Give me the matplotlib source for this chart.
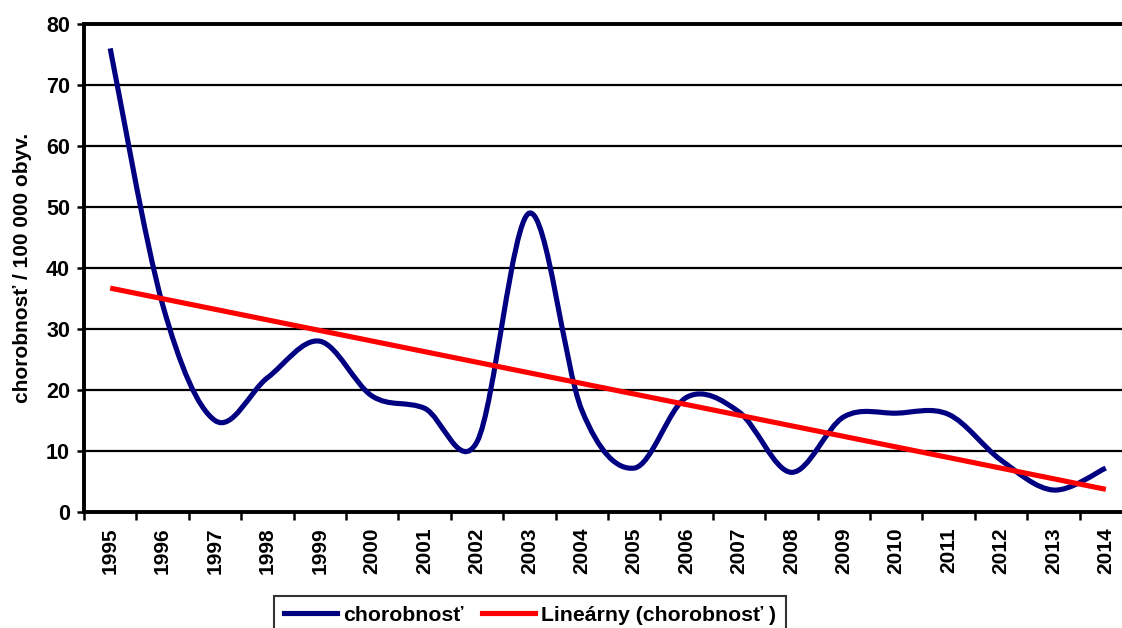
import numpy as np
import matplotlib
matplotlib.use("Agg")
import matplotlib.pyplot as plt
from matplotlib.path import Path
from matplotlib.patches import PathPatch
from matplotlib.lines import Line2D

plt.rcParams['font.family'] = ['Liberation Sans', 'DejaVu Sans']
plt.rcParams['font.weight'] = 'bold'

# data
years = [str(y) for y in range(1995, 2015)]
values = [76, 34, 15, 22, 28, 19, 17, 11.5, 49, 16.7, 7.2, 18.8, 16.4, 6.5,
          15.6, 16.2, 16, 8.5, 3.6, 7.2]
series_name = "chorobnosť"
trend_name = "Lineárny (chorobnosť )"
y_label = "chorobnosť / 100 000 obyv."


# smoothed line like Excel (Bezier through the points)
def smooth_path(xs, ys):
    pts = np.column_stack([xs, ys]).astype(float)
    n = len(pts)
    verts = [pts[0]]
    codes = [Path.MOVETO]
    for i in range(n - 1):
        p0 = pts[i - 1] if i > 0 else pts[i]
        p1 = pts[i]
        p2 = pts[i + 1]
        p3 = pts[i + 2] if i + 2 < n else pts[i + 1]
        c1 = p1 + (p2 - p0) / 6.0
        c2 = p2 - (p3 - p1) / 6.0
        verts += [c1, c2, p2]
        codes += [Path.CURVE4] * 3
    return Path(verts, codes)


x = np.arange(len(years))
coef = np.polyfit(x, values, 1)
trend = np.polyval(coef, x)

fig = plt.figure(figsize=(11.22, 6.28), dpi=100)
ax = fig.add_axes([84 / 1122, 116 / 628, 1048 / 1122, 488 / 628])

for v in range(10, 90, 10):
    ax.axhline(v, color='black', lw=1.6, zorder=1)

navy = '#000080'
patch = PathPatch(smooth_path(x, values), facecolor='none', edgecolor=navy,
                  lw=3.7, capstyle='butt', zorder=3)
ax.add_patch(patch)
ax.plot(x, trend, color='#ff0000', lw=3.7, solid_capstyle='butt', zorder=4)

ax.set_xlim(-0.5, len(years) - 0.5)
ax.set_ylim(0, 80)
ax.set_yticks(range(0, 90, 10))
ax.set_yticklabels([str(v) for v in range(0, 90, 10)], fontsize=15.5, fontweight='bold')
ax.set_xticks(x)
ax.set_xticklabels(years, rotation=90, fontsize=15, fontweight='bold')
ax.set_xticks(np.arange(-0.5, len(years), 1), minor=True)
ax.tick_params(axis='x', which='major', length=0, pad=11)
ax.tick_params(axis='x', which='minor', length=6, width=1.8, direction='out')
ax.tick_params(axis='y', length=5, width=1.8, direction='out', pad=5)

for s in ['left', 'bottom', 'top']:
    ax.spines[s].set_linewidth(2.8)
ax.spines['right'].set_visible(False)

ax.set_ylabel(y_label, fontsize=15, fontweight='bold', labelpad=10)

handles = [Line2D([], [], color=navy, lw=3.7), Line2D([], [], color='#ff0000', lw=3.7)]
leg = fig.legend(handles, [series_name, trend_name], loc='upper left',
                 bbox_to_anchor=(274 / 1122, 1 - 596 / 628), borderaxespad=0,
                 ncol=2, fontsize=15.3, frameon=True, fancybox=False,
                 handlelength=2.5, columnspacing=0.9, borderpad=0.45,
                 handletextpad=0.28)
leg.get_frame().set_edgecolor('black')
leg.get_frame().set_linewidth(1.5)

fig.savefig('out.png', dpi=100)
